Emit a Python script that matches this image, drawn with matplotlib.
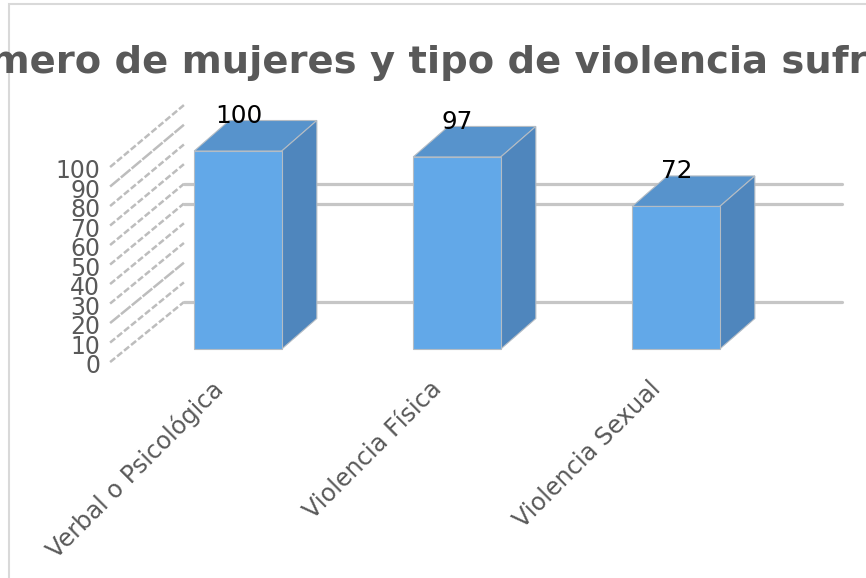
import matplotlib
matplotlib.use("Agg")
import matplotlib.pyplot as plt
from matplotlib.patches import Rectangle

categories = ["Verbal o Psicológica", "Violencia Física", "Violencia Sexual"]
values = [100, 97, 72]
y_ticks = [0, 10, 20, 30, 40, 50, 60, 70, 80, 90, 100]
back_lines = [0, 50, 60]
solid_walls = [20, 90]
title = "Número de mujeres y tipo de violencia sufrida"

GREY = "#595959"
FRONT = "#62a8e8"
TOP = "#5793cc"
SIDE = "#4f86bd"
EDGE = "#b4bcc4"

# scale of the plot, one category = 219 px, one unit = 1.98 px
fig = plt.figure(figsize=(8.66, 5.78), dpi=100)
ax = fig.add_axes([0, 0, 1, 1])
ax.set_xlim(-238 / 219, (866 - 238) / 219)
ax.set_ylim((349 - 578) / 1.98, 349 / 1.98)
ax.axis("off")

# chart frame, text gets clipped to it
frame = Rectangle((-1.046, -120), 4.98, 294, facecolor="white", edgecolor="#d9d9d9", lw=1.5, zorder=0)
ax.add_patch(frame)

# side wall and back wall of the 3d box
wall_x0, wall_x1 = -0.584, -0.247
for t in y_ticks:
    y0 = -6.6 + t * 0.985
    y1 = 23.7 + t * 0.995
    style = (0, (5, 0.6)) if t in solid_walls else (0, (2.6, 1))
    ax.plot([wall_x0, wall_x1], [y0, y1], color="#bdbdbd", lw=1.8, ls=style, zorder=1)
    ax.text(-0.63, y0 - 2, str(t), ha="right", va="center", fontsize=17, color=GREY)

for t in back_lines:
    y1 = 23.7 + t * 0.995
    ax.plot([wall_x1, 2.76], [y1, y1], color="#c6c6c6", lw=2.3, zorder=1, solid_capstyle="round")

# bars
width = 0.4
dx, dy = 0.16, 15.4
xs = list(range(len(categories)))
ax.bar(xs, values, width=width, color=FRONT, edgecolor=EDGE, lw=0.8, zorder=3)
for x, v in zip(xs, values):
    left, right = x - width / 2, x + width / 2
    ax.fill([left, right, right + dx, left + dx], [v, v, v + dy, v + dy],
            facecolor=TOP, edgecolor=EDGE, lw=0.8, zorder=2)
    ax.fill([right, right + dx, right + dx, right], [0, dy, v + dy, v],
            facecolor=SIDE, edgecolor=EDGE, lw=0.8, zorder=2)
    ax.text(x + 0.003, v + 17.7, str(v), ha="center", va="center", fontsize=17.8, color="black", zorder=5)

for x, name in zip(xs, categories):
    ax.text(x - 0.125, -14, name, rotation=45, rotation_mode="anchor", ha="right", va="top",
            fontsize=17.3, color=GREY, zorder=4)

tt = ax.text(0.886, 145, title, ha="center", va="center", fontsize=27.7, fontweight="bold", color=GREY, zorder=4)
tt.set_clip_path(frame)

fig.savefig("out.png", dpi=100)
